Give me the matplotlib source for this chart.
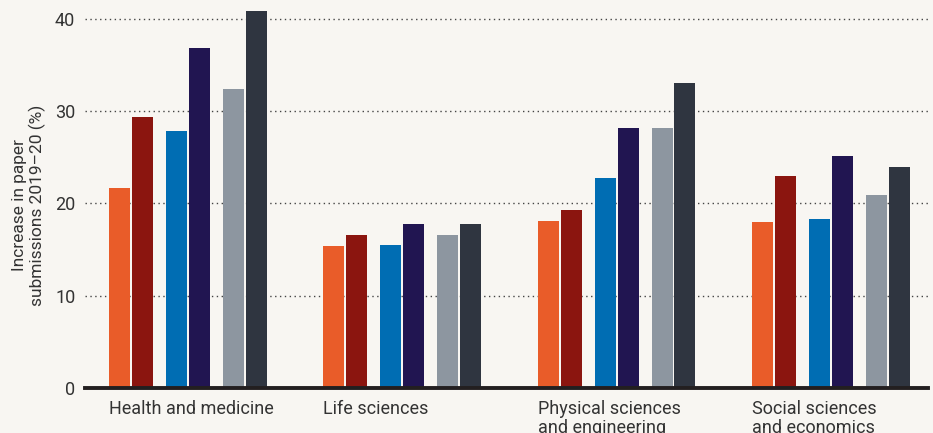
import numpy as np
import matplotlib.pyplot as plt

plt.rcParams['font.family'] = ['Roboto', 'DejaVu Sans']

groups = ['Health and medicine', 'Life sciences',
          'Physical sciences\nand engineering', 'Social sciences\nand economics']
orange = [21.7, 15.4, 18.1, 18.0]
dark_red = [29.4, 16.6, 19.3, 23.0]
blue = [27.8, 15.5, 22.8, 18.3]
navy = [36.8, 17.8, 28.2, 25.1]
grey = [32.4, 16.6, 28.2, 20.9]
slate = [40.9, 17.8, 33.1, 24.0]

series = [orange, dark_red, blue, navy, grey, slate]
colors = ['#e95c29', '#8b150f', '#006db3', '#211551', '#8d96a0', '#2f3540']
offsets = [0.049, 0.156, 0.315, 0.422, 0.581, 0.688]
width = 0.098
bg = '#f8f6f2'

fig = plt.figure(figsize=(9.33, 4.33), dpi=100, facecolor=bg)
ax = fig.add_axes([85/933, 45/433, 843/933, 388/433])
ax.set_facecolor(bg)

x = np.arange(len(groups))
for vals, c, off in zip(series, colors, offsets):
    ax.bar(x + off, vals, width=width, color=c, zorder=3)

ax.set_xlim(-0.112, 3.822)
ax.set_ylim(0, 42.05)
ax.set_yticks([0, 10, 20, 30, 40])
ax.yaxis.grid(True, linestyle=(0, (1, 2.5)), color='#444444', linewidth=1.0, zorder=0)
ax.tick_params(axis='y', length=0, pad=7, labelsize=13, labelcolor='#333333')
ax.set_xticks([])

for s in ['top', 'right', 'left']:
    ax.spines[s].set_visible(False)
ax.spines['bottom'].set_linewidth(2.8)
ax.spines['bottom'].set_color('#231f20')
ax.spines['bottom'].set_zorder(4)

for xi, g in zip(x, groups):
    ax.text(xi, -1.3, g, ha='left', va='top', fontsize=13, color='#333333',
            linespacing=1.1, clip_on=False)

fig.text(29/933, 1 - 205/433, 'Increase in paper\nsubmissions 2019–20 (%)',
         rotation=90, ha='center', va='center', fontsize=12.5, color='#333333',
         linespacing=1.2)

fig.savefig('out.png', dpi=100, facecolor=bg)
